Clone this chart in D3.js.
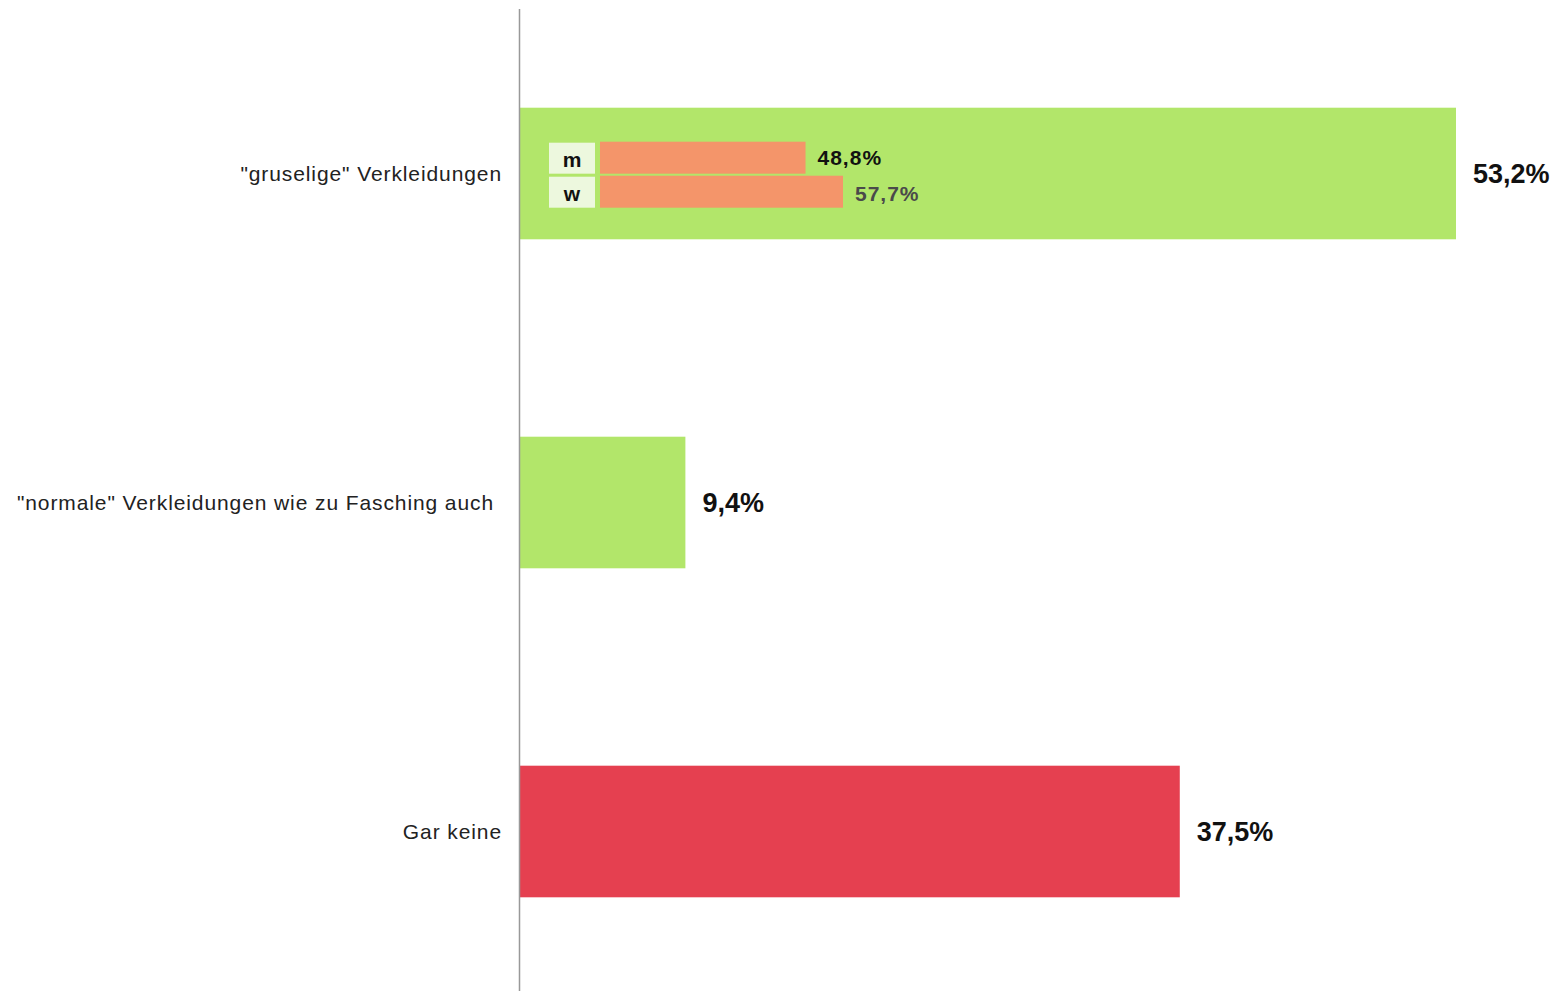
<!DOCTYPE html>
<html>
<head>
<meta charset="utf-8">
<script src="https://cdn.jsdelivr.net/npm/d3@7"></script>
<style>
  body { margin: 0; background: #fff; font-family: "Liberation Sans", Arial, sans-serif; }
  .cat-label { font-size: 21px; fill: #222; letter-spacing: 0.9px; }
  .val-label { font-size: 27px; font-weight: bold; fill: #111; }
  .sub-val { font-size: 21px; font-weight: bold; letter-spacing: 1px; }
  .sub-key { font-size: 21px; font-weight: bold; fill: #111; }
</style>
</head>
<body>
<div id="chart"></div>
<script>
var categories = ['"gruselige" Verkleidungen', '"normale" Verkleidungen wie zu Fasching auch', "Gar keine"];
var values = [53.2, 9.4, 37.5];
var bar_colors = ["#b2e66a", "#b2e66a", "#e54050"];

// breakdown by gender for the first category
var sub_keys = ["m", "w"];
var sub_values = [48.8, 57.7];
var sub_label_colors = ["#111", "#4a4a4a"];

var width = 1567, height = 991;
var axis_x = 520;

var fmt = function(v){ return d3.format(".1f")(v).replace(".", ",") + "%"; };

var svg = d3.select("#chart").append("svg")
    .attr("width", width)
    .attr("height", height);

var x = d3.scaleLinear()
    .domain([0, 53.2])
    .range([axis_x, 1456]);

var y = d3.scaleBand()
    .domain(categories)
    .range([9, 996])
    .paddingInner(0.6)
    .paddingOuter(0.3);

svg.selectAll(".bar")
    .data(categories)
  .enter().append("rect")
    .attr("class", "bar")
    .attr("x", x(0))
    .attr("y", function(d){ return y(d); })
    .attr("width", function(d, i){ return x(values[i]) - x(0); })
    .attr("height", y.bandwidth())
    .style("fill", function(d, i){ return bar_colors[i]; });

svg.selectAll(".val-label")
    .data(categories)
  .enter().append("text")
    .attr("class", "val-label")
    .attr("x", function(d, i){ return x(values[i]) + 17; })
    .attr("y", function(d){ return y(d) + y.bandwidth() / 2; })
    .attr("dy", "0.36em")
    .text(function(d, i){ return fmt(values[i]); });

svg.selectAll(".cat-label")
    .data(categories)
  .enter().append("text")
    .attr("class", "cat-label")
    .attr("x", function(d, i){ return i == 1 ? 494 : 502; })
    .attr("y", function(d){ return y(d) + y.bandwidth() / 2; })
    .attr("dy", "0.35em")
    .attr("text-anchor", "end")
    .text(function(d){ return d; });

// inset gender bars inside the first bar
var sub_x = d3.scaleLinear()
    .domain([0, 57.7])
    .range([600, 843]);

var sub_y = d3.scaleBand()
    .domain(sub_keys)
    .range([y(categories[0]) + 34, y(categories[0]) + 100])
    .paddingInner(0.06);

var sub = svg.append("g").attr("class", "sub");

sub.selectAll(".sub-key-box")
    .data(sub_keys)
  .enter().append("rect")
    .attr("class", "sub-key-box")
    .attr("x", 549)
    .attr("y", function(d){ return sub_y(d) + 1; })
    .attr("width", 46)
    .attr("height", sub_y.bandwidth() - 1)
    .style("fill", "#edf8de");

sub.selectAll(".sub-key")
    .data(sub_keys)
  .enter().append("text")
    .attr("class", "sub-key")
    .attr("x", 572)
    .attr("y", function(d){ return sub_y(d) + sub_y.bandwidth() / 2 + 2; })
    .attr("dy", "0.35em")
    .attr("text-anchor", "middle")
    .text(function(d){ return d; });

sub.selectAll(".sub-bar")
    .data(sub_keys)
  .enter().append("rect")
    .attr("class", "sub-bar")
    .attr("x", sub_x(0))
    .attr("y", function(d){ return sub_y(d); })
    .attr("width", function(d, i){ return sub_x(sub_values[i]) - sub_x(0); })
    .attr("height", sub_y.bandwidth())
    .style("fill", "#f4956a");

sub.selectAll(".sub-val")
    .data(sub_keys)
  .enter().append("text")
    .attr("class", "sub-val")
    .attr("x", function(d, i){ return sub_x(sub_values[i]) + 12; })
    .attr("y", function(d, i){ return sub_y(d) + sub_y.bandwidth() / 2 + (i == 1 ? 2 : 0); })
    .attr("dy", "0.35em")
    .style("fill", function(d, i){ return sub_label_colors[i]; })
    .text(function(d, i){ return fmt(sub_values[i]); });

// vertical axis line
svg.append("line")
    .attr("x1", axis_x - 0.5)
    .attr("x2", axis_x - 0.5)
    .attr("y1", 9)
    .attr("y2", height)
    .style("stroke", "#999")
    .style("stroke-width", 1.5);
</script>
</body>
</html>
